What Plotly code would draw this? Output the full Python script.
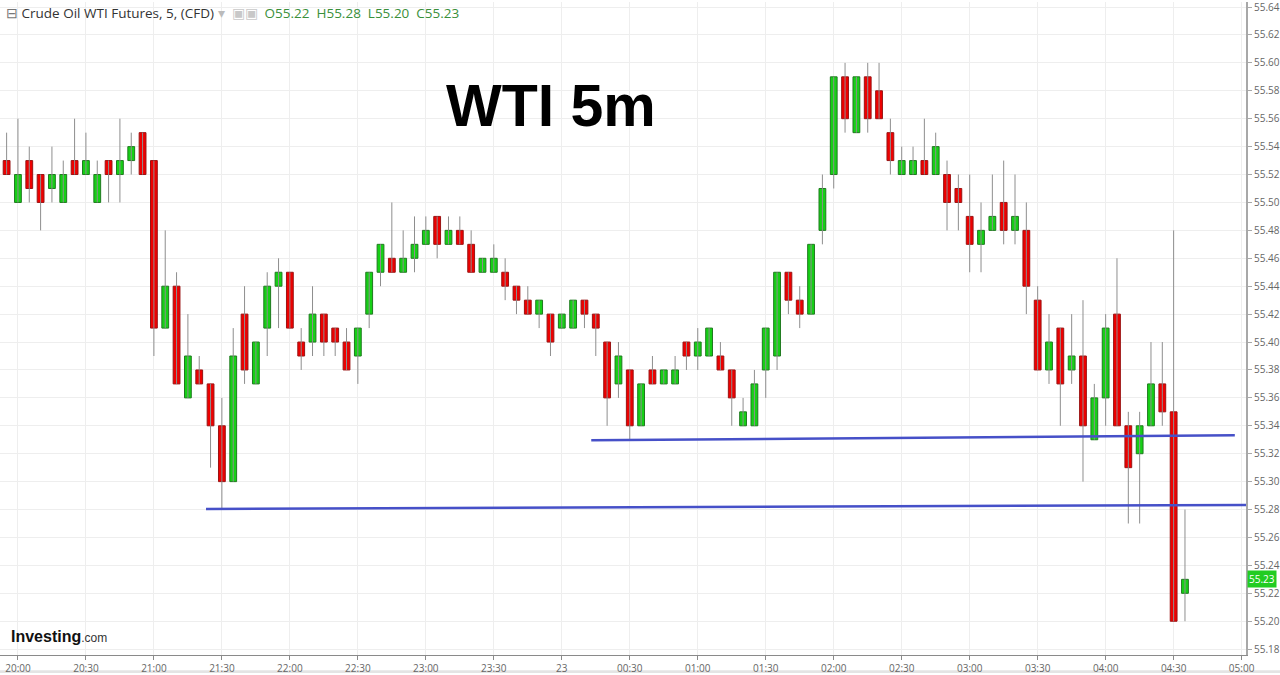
import pandas as pd
import plotly.graph_objects as go

# ---- data (5-minute candles, first candle 19:55) ----
start_time = "2019-01-22 19:55"
opens = [55.53, 55.50, 55.53, 55.52, 55.51, 55.50, 55.53, 55.52, 55.50, 55.53,
         55.52, 55.53, 55.55, 55.53, 55.41, 55.44, 55.36, 55.38, 55.37, 55.34,
         55.30, 55.42, 55.37, 55.41, 55.44, 55.45, 55.40, 55.40, 55.42, 55.41,
         55.40, 55.39, 55.42, 55.45, 55.46, 55.45, 55.46, 55.47, 55.49, 55.47,
         55.48, 55.47, 55.45, 55.45, 55.45, 55.44, 55.43, 55.42, 55.42, 55.41,
         55.41, 55.43, 55.42, 55.40, 55.37, 55.38, 55.34, 55.38, 55.37, 55.37,
         55.40, 55.39, 55.39, 55.39, 55.38, 55.34, 55.34, 55.38, 55.39, 55.45,
         55.43, 55.42, 55.48, 55.52, 55.59, 55.55, 55.59, 55.58, 55.55, 55.52,
         55.52, 55.53, 55.52, 55.52, 55.51, 55.49, 55.47, 55.48, 55.50, 55.48,
         55.48, 55.43, 55.38, 55.41, 55.38, 55.39, 55.33, 55.36, 55.42, 55.34,
         55.32, 55.34, 55.37, 55.35, 55.22]
highs = [55.55, 55.56, 55.54, 55.52, 55.54, 55.53, 55.56, 55.55, 55.53, 55.53,
         55.56, 55.55, 55.55, 55.53, 55.48, 55.45, 55.42, 55.39, 55.37, 55.36,
         55.41, 55.44, 55.40, 55.45, 55.46, 55.45, 55.41, 55.44, 55.42, 55.41,
         55.41, 55.41, 55.45, 55.47, 55.50, 55.48, 55.49, 55.49, 55.49, 55.49,
         55.49, 55.48, 55.46, 55.47, 55.46, 55.44, 55.44, 55.43, 55.42, 55.42,
         55.43, 55.43, 55.42, 55.40, 55.40, 55.38, 55.37, 55.39, 55.38, 55.39,
         55.40, 55.41, 55.41, 55.40, 55.38, 55.36, 55.38, 55.41, 55.45, 55.45,
         55.44, 55.47, 55.52, 55.59, 55.60, 55.59, 55.60, 55.60, 55.56, 55.54,
         55.54, 55.56, 55.55, 55.53, 55.52, 55.52, 55.50, 55.52, 55.53, 55.52,
         55.50, 55.44, 55.42, 55.41, 55.42, 55.43, 55.37, 55.42, 55.46, 55.35,
         55.35, 55.40, 55.40, 55.48, 55.28]
lows = [55.52, 55.50, 55.50, 55.48, 55.50, 55.50, 55.52, 55.52, 55.50, 55.50,
        55.50, 55.52, 55.52, 55.39, 55.41, 55.37, 55.36, 55.37, 55.31, 55.28,
        55.30, 55.37, 55.37, 55.39, 55.41, 55.41, 55.38, 55.39, 55.39, 55.39,
        55.38, 55.37, 55.41, 55.44, 55.45, 55.45, 55.45, 55.47, 55.46, 55.47,
        55.47, 55.45, 55.45, 55.45, 55.43, 55.42, 55.42, 55.41, 55.39, 55.41,
        55.41, 55.41, 55.39, 55.34, 55.36, 55.33, 55.34, 55.37, 55.37, 55.37,
        55.38, 55.38, 55.39, 55.38, 55.34, 55.34, 55.34, 55.36, 55.38, 55.42,
        55.41, 55.42, 55.47, 55.51, 55.55, 55.55, 55.55, 55.56, 55.52, 55.52,
        55.52, 55.52, 55.52, 55.48, 55.48, 55.45, 55.45, 55.48, 55.47, 55.47,
        55.42, 55.38, 55.37, 55.34, 55.37, 55.30, 55.33, 55.34, 55.34, 55.27,
        55.27, 55.34, 55.34, 55.20, 55.20]
closes = [55.52, 55.52, 55.51, 55.50, 55.52, 55.52, 55.52, 55.53, 55.52, 55.52,
          55.53, 55.54, 55.52, 55.41, 55.44, 55.37, 55.39, 55.37, 55.34, 55.30,
          55.39, 55.38, 55.40, 55.44, 55.45, 55.41, 55.39, 55.42, 55.40, 55.40,
          55.38, 55.41, 55.45, 55.47, 55.45, 55.46, 55.47, 55.48, 55.47, 55.48,
          55.47, 55.45, 55.46, 55.46, 55.44, 55.43, 55.42, 55.43, 55.40, 55.42,
          55.43, 55.42, 55.41, 55.36, 55.39, 55.34, 55.37, 55.37, 55.38, 55.38,
          55.39, 55.40, 55.41, 55.38, 55.36, 55.35, 55.37, 55.41, 55.45, 55.43,
          55.42, 55.47, 55.51, 55.59, 55.56, 55.59, 55.56, 55.56, 55.53, 55.53,
          55.53, 55.52, 55.54, 55.50, 55.50, 55.47, 55.48, 55.49, 55.48, 55.49,
          55.44, 55.38, 55.40, 55.37, 55.39, 55.34, 55.36, 55.41, 55.34, 55.31,
          55.34, 55.37, 55.35, 55.20, 55.23]

# support lines (drawn trendlines)
line1_x = ["2019-01-22 21:23", "2019-01-23 05:02"]
line1_y = [55.2804, 55.2833]
line2_x = ["2019-01-23 00:13", "2019-01-23 04:57"]
line2_y = [55.3296, 55.3333]

x_tick_vals = ["2019-01-22 20:00", "2019-01-22 20:30", "2019-01-22 21:00", "2019-01-22 21:30",
               "2019-01-22 22:00", "2019-01-22 22:30", "2019-01-22 23:00", "2019-01-22 23:30",
               "2019-01-23 00:00", "2019-01-23 00:30", "2019-01-23 01:00", "2019-01-23 01:30",
               "2019-01-23 02:00", "2019-01-23 02:30", "2019-01-23 03:00", "2019-01-23 03:30",
               "2019-01-23 04:00", "2019-01-23 04:30", "2019-01-23 05:00"]
x_tick_text = ["20:00", "20:30", "21:00", "21:30", "22:00", "22:30", "23:00", "23:30",
               "23", "00:30", "01:00", "01:30", "02:00", "02:30", "03:00", "03:30",
               "04:00", "04:30", "05:00"]
y_tick_vals = [round(55.18 + 0.02 * k, 2) for k in range(24)]
x_range = ["2019-01-22 19:52:05", "2019-01-23 05:01:56"]
y_range = [55.1758, 55.6436]
last_price = closes[-1]

times = pd.date_range(start_time, periods=len(opens), freq="5min")

GREEN = "#16d016"
GREEN_EDGE = "#1f7a1f"
RED = "#ee0000"
RED_EDGE = "#9a1414"

fig = go.Figure()

# wicks
wx, wy = [], []
for t, lo, hi in zip(times, lows, highs):
    wx += [t, t, None]
    wy += [lo, hi, None]
fig.add_trace(go.Scatter(x=wx, y=wy, mode="lines",
                         line=dict(color="#8e8e8e", width=1),
                         hoverinfo="skip", showlegend=False))

# bodies
up_t, up_b, up_h, dn_t, dn_b, dn_h = [], [], [], [], [], []
for t, o, c in zip(times, opens, closes):
    if c >= o:
        up_t.append(t); up_b.append(o); up_h.append(c - o)
    else:
        dn_t.append(t); dn_b.append(c); dn_h.append(o - c)

fig.add_trace(go.Bar(x=up_t, y=up_h, base=up_b, width=180000,
                     marker=dict(color=GREEN, line=dict(color=GREEN_EDGE, width=1)),
                     showlegend=False))
fig.add_trace(go.Bar(x=dn_t, y=dn_h, base=dn_b, width=180000,
                     marker=dict(color=RED, line=dict(color=RED_EDGE, width=1)),
                     showlegend=False))

# drawn lines
for lx, ly in [(line1_x, line1_y), (line2_x, line2_y)]:
    fig.add_trace(go.Scatter(x=lx, y=ly, mode="lines",
                             line=dict(color="#4650c8", width=2.5),
                             hoverinfo="skip", showlegend=False))

fig.update_layout(
    width=1280, height=675,
    margin=dict(l=0, r=30, t=0, b=18),
    paper_bgcolor="white", plot_bgcolor="white",
    barmode="overlay",
    font=dict(family="Open Sans, Arial, sans-serif", size=10, color="#555"),
    xaxis=dict(type="date", range=x_range, tickvals=x_tick_vals, ticktext=x_tick_text,
               showgrid=True, gridcolor="#eeeeee", gridwidth=1,
               showline=True, linecolor="#8a8a8a", linewidth=1,
               ticks="outside", ticklen=4, tickcolor="#8a8a8a",
               tickfont=dict(size=10, color="#666"), zeroline=False),
    yaxis=dict(side="right", range=y_range, tickvals=y_tick_vals, tickformat=".2f",
               showgrid=True, gridcolor="#eeeeee", gridwidth=1,
               showline=True, linecolor="#a8a8a8", linewidth=2,
               ticks="outside", ticklen=4, tickcolor="#a8a8a8",
               ticklabeloverflow="allow",
               tickfont=dict(size=10, color="#666"), zeroline=False),
)

# header
fig.add_annotation(
    xref="paper", yref="paper", x=0.003, y=0.983, xanchor="left", yanchor="middle",
    showarrow=False,
    text=("<span style='color:#777'>⊟</span> <span style='color:#333'>Crude Oil WTI Futures, 5, (CFD)</span>"
          " <span style='color:#bbb'>▾</span>&nbsp;&nbsp;<span style='color:#c8c8c8'>▣▣</span>&nbsp;&nbsp;"
          "<span style='color:#3a8f3a'>O55.22&nbsp;&nbsp;H55.28&nbsp;&nbsp;L55.20&nbsp;&nbsp;C55.23</span>"),
    font=dict(family="Open Sans, sans-serif", size=13.5, color="#333"),
)

# big title
fig.add_annotation(
    xref="paper", yref="paper", x=0.4424, y=0.840, xanchor="center", yanchor="middle",
    showarrow=False, text="<b>WTI 5m</b>",
    font=dict(family="Liberation Sans, Arial, sans-serif", size=59, color="#000"),
)

# logo
fig.add_annotation(
    xref="paper", yref="paper", x=0.007, y=0.029, xanchor="left", yanchor="middle",
    showarrow=False,
    text="<b>Investing</b><span style='font-size:12px;color:#333'>.com</span>",
    font=dict(family="Liberation Sans, Arial, sans-serif", size=16, color="#111"),
)

# last price tag
fig.add_annotation(
    xref="paper", yref="y", x=1.0, y=last_price, xanchor="left", yanchor="middle",
    xshift=1, showarrow=False, text=f"{last_price:.2f}",
    bgcolor="#22cc22", borderpad=1,
    font=dict(family="Open Sans, Arial, sans-serif", size=10, color="white"),
)

# bottom strip
fig.add_shape(type="rect", xref="paper", yref="paper", x0=0, x1=1.03, y0=-0.0275, y1=-0.0235,
              fillcolor="#e4e4e4", line=dict(width=0), layer="below")

fig.write_html("out.html",
               config={"displayModeBar": False},
               post_script="document.body.style.margin='0';document.body.style.overflow='hidden';")
